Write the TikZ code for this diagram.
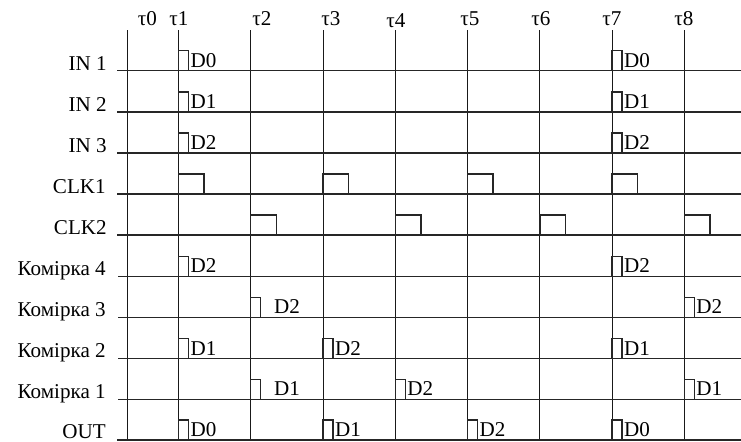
\documentclass[tikz,border=0pt]{standalone}
\usepackage{fontspec}
\setmainfont{Liberation Serif}
\usetikzlibrary{positioning}
\tikzstyle{grid}=[line width=0.55pt,draw=black!90]
\tikzstyle{sig}=[line width=0.85pt,draw=black!85]
\tikzstyle{rowlab}=[anchor=base east,inner sep=0pt,font=\fontsize{12}{14}\selectfont]
\tikzstyle{tlab}=[anchor=base,inner sep=0pt,font=\fontsize{12}{14}\selectfont]
\tikzstyle{dlab}=[anchor=west,inner sep=1pt,font=\fontsize{12}{14}\selectfont]

\begin{document}
\begin{tikzpicture}[x=0.02cm,y=-0.02cm]
\useasboundingbox (0,0) rectangle (741,441);
% time marks
\foreach \n/\x/\lx/\ly in {0/127/147.5/25,1/178.5/179/25,2/250.75/262/25,3/323/331/25,4/395.25/396/27,5/467.5/470/25,6/539.75/541/25,7/612/612/25,8/684.25/684/25}{
  \draw[grid] (\x,30) -- (\x,441);
  \node[tlab] (tau\n) at (\lx,\ly) {τ\n};
}
% inputs
\node[rowlab] (in1) at (107,70) {IN 1};
\draw[sig] (117,70.7) -- (741,70.7);
\foreach \x/\d [count=\i] in {178.5/D0,612/D0}{
  \draw[sig] (\x,70.7) -- ++(0,-20) -- ++(10,0) -- ++(0,20);
  \node[dlab] (in1d\i) at (\x+10,60.2) {\d};}
\node[rowlab] (in2) at (107,111) {IN 2};
\draw[sig] (117,112) -- (741,112);
\foreach \x/\d [count=\i] in {178.5/D1,612/D1}{
  \draw[sig] (\x,112) -- ++(0,-20) -- ++(10,0) -- ++(0,20);
  \node[dlab] (in2d\i) at (\x+10,101.5) {\d};}
\node[rowlab] (in3) at (107,152) {IN 3};
\draw[sig] (117,153) -- (741,153);
\foreach \x/\d [count=\i] in {178.5/D2,612/D2}{
  \draw[sig] (\x,153) -- ++(0,-20) -- ++(10,0) -- ++(0,20);
  \node[dlab] (in3d\i) at (\x+10,142.5) {\d};}
% clocks
\node[rowlab] (clk1) at (106,193) {CLK1};
\draw[sig] (117,194) -- (741,194);
\foreach \x in {178.5,323,467.5,612}
  \draw[sig] (\x,194) -- ++(0,-20) -- ++(25.7,0) -- ++(0,20);
\node[rowlab] (clk2) at (107,234) {CLK2};
\draw[sig] (117,235) -- (741,235);
\foreach \x in {250.75,395.25,539.75,684.25}
  \draw[sig] (\x,235) -- ++(0,-20) -- ++(25.7,0) -- ++(0,20);
% cells
\node[rowlab] (cell4) at (106,275.5) {Комірка 4};
\draw[sig] (118,276.5) -- (741,276.5);
\foreach \x/\d [count=\i] in {178.5/D2,612/D2}{
  \draw[sig] (\x,276.5) -- ++(0,-20) -- ++(10,0) -- ++(0,20);
  \node[dlab] (c4d\i) at (\x+10,266) {\d};}
\node[rowlab] (cell3) at (106,316.5) {Комірка 3};
\draw[sig] (118,317.5) -- (741,317.5);
\draw[sig] (250.75,317.5) -- ++(0,-20) -- ++(10,0) -- ++(0,20);
\node[dlab] (c3d1) at (272,307) {D2};
\draw[sig] (684.25,317.5) -- ++(0,-20) -- ++(10,0) -- ++(0,20);
\node[dlab] (c3d2) at (694.25,307) {D2};
\node[rowlab] (cell2) at (106,357.7) {Комірка 2};
\draw[sig] (118,358.7) -- (741,358.7);
\foreach \x/\d [count=\i] in {178.5/D1,323/D2,612/D1}{
  \draw[sig] (\x,358.7) -- ++(0,-20) -- ++(10,0) -- ++(0,20);
  \node[dlab] (c2d\i) at (\x+10,348.2) {\d};}
\node[rowlab] (cell1) at (106,398.5) {Комірка 1};
\draw[sig] (118,399.5) -- (741,399.5);
\draw[sig] (250.75,399.5) -- ++(0,-20) -- ++(10,0) -- ++(0,20);
\node[dlab] (c1d1) at (272,389) {D1};
\foreach \x/\d [count=\i] in {395.25/D2,684.25/D1}{
  \draw[sig] (\x,399.5) -- ++(0,-20) -- ++(10,0) -- ++(0,20);
  \node[dlab] (c1d\i x) at (\x+10,389) {\d};}
% output
\node[rowlab] (out) at (106,438) {OUT};
\draw[sig] (117,440) -- (741,440);
\foreach \x/\d [count=\i] in {178.5/D0,323/D1,467.5/D2,612/D0}{
  \draw[sig] (\x,440) -- ++(0,-20) -- ++(10,0) -- ++(0,20);
  \node[dlab] (outd\i) at (\x+10,429.5) {\d};}
\end{tikzpicture}
\end{document}
